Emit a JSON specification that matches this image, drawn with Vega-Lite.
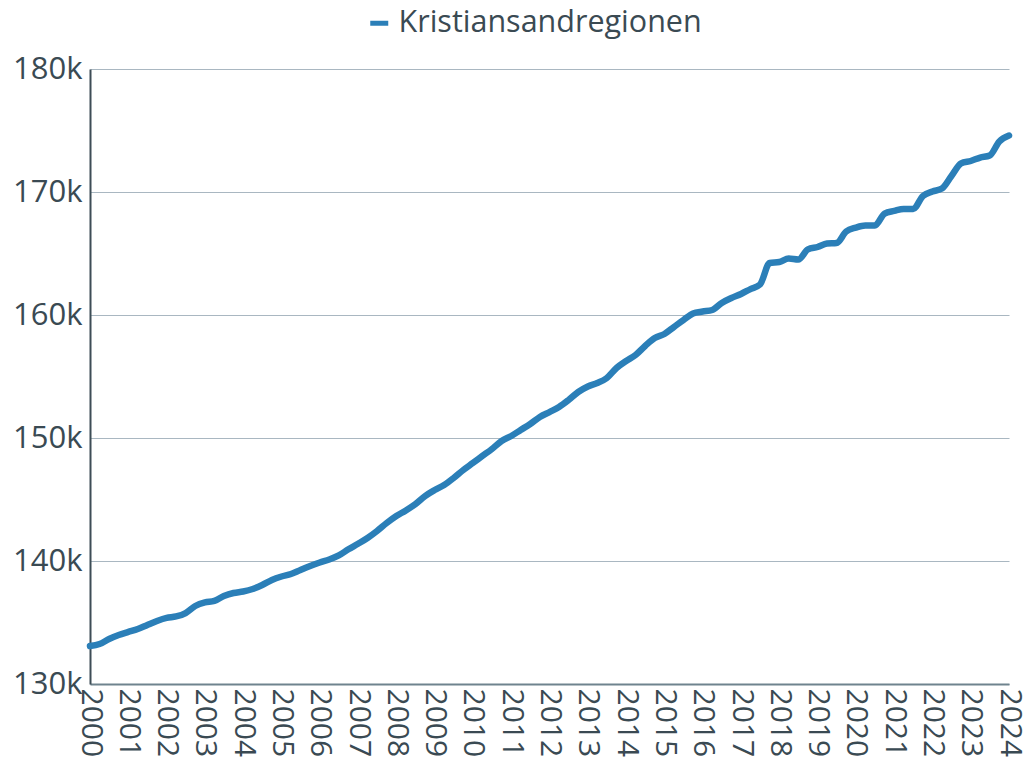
{
  "$schema": "https://vega.github.io/schema/vega-lite/v6.json",
  "autosize": "none",
  "width": 919,
  "height": 615,
  "padding": {"left": 90, "top": 69, "right": 16, "bottom": 78},
  "background": "white",
  "config": {
    "font": "Open Sans",
    "view": {"stroke": null}
  },
  "data": {
    "values": [
      {"date": "2000-01-01", "series": "Kristiansandregionen", "value": 133090},
      {"date": "2000-04-01", "series": "Kristiansandregionen", "value": 133250},
      {"date": "2000-07-01", "series": "Kristiansandregionen", "value": 133660},
      {"date": "2000-10-01", "series": "Kristiansandregionen", "value": 133980},
      {"date": "2001-01-01", "series": "Kristiansandregionen", "value": 134230},
      {"date": "2001-04-01", "series": "Kristiansandregionen", "value": 134470},
      {"date": "2001-07-01", "series": "Kristiansandregionen", "value": 134800},
      {"date": "2001-10-01", "series": "Kristiansandregionen", "value": 135120},
      {"date": "2002-01-01", "series": "Kristiansandregionen", "value": 135370},
      {"date": "2002-04-01", "series": "Kristiansandregionen", "value": 135490},
      {"date": "2002-07-01", "series": "Kristiansandregionen", "value": 135770},
      {"date": "2002-10-01", "series": "Kristiansandregionen", "value": 136340},
      {"date": "2003-01-01", "series": "Kristiansandregionen", "value": 136630},
      {"date": "2003-04-01", "series": "Kristiansandregionen", "value": 136750},
      {"date": "2003-07-01", "series": "Kristiansandregionen", "value": 137150},
      {"date": "2003-10-01", "series": "Kristiansandregionen", "value": 137400},
      {"date": "2004-01-01", "series": "Kristiansandregionen", "value": 137520},
      {"date": "2004-04-01", "series": "Kristiansandregionen", "value": 137720},
      {"date": "2004-07-01", "series": "Kristiansandregionen", "value": 138050},
      {"date": "2004-10-01", "series": "Kristiansandregionen", "value": 138460},
      {"date": "2005-01-01", "series": "Kristiansandregionen", "value": 138740},
      {"date": "2005-04-01", "series": "Kristiansandregionen", "value": 138940},
      {"date": "2005-07-01", "series": "Kristiansandregionen", "value": 139270},
      {"date": "2005-10-01", "series": "Kristiansandregionen", "value": 139590},
      {"date": "2006-01-01", "series": "Kristiansandregionen", "value": 139880},
      {"date": "2006-04-01", "series": "Kristiansandregionen", "value": 140120},
      {"date": "2006-07-01", "series": "Kristiansandregionen", "value": 140450},
      {"date": "2006-10-01", "series": "Kristiansandregionen", "value": 140950},
      {"date": "2007-01-01", "series": "Kristiansandregionen", "value": 141400},
      {"date": "2007-04-01", "series": "Kristiansandregionen", "value": 141870},
      {"date": "2007-07-01", "series": "Kristiansandregionen", "value": 142440},
      {"date": "2007-10-01", "series": "Kristiansandregionen", "value": 143090},
      {"date": "2008-01-01", "series": "Kristiansandregionen", "value": 143660},
      {"date": "2008-04-01", "series": "Kristiansandregionen", "value": 144110},
      {"date": "2008-07-01", "series": "Kristiansandregionen", "value": 144630},
      {"date": "2008-10-01", "series": "Kristiansandregionen", "value": 145280},
      {"date": "2009-01-01", "series": "Kristiansandregionen", "value": 145770},
      {"date": "2009-04-01", "series": "Kristiansandregionen", "value": 146180},
      {"date": "2009-07-01", "series": "Kristiansandregionen", "value": 146750},
      {"date": "2009-10-01", "series": "Kristiansandregionen", "value": 147400},
      {"date": "2010-01-01", "series": "Kristiansandregionen", "value": 147970},
      {"date": "2010-04-01", "series": "Kristiansandregionen", "value": 148540},
      {"date": "2010-07-01", "series": "Kristiansandregionen", "value": 149110},
      {"date": "2010-10-01", "series": "Kristiansandregionen", "value": 149760},
      {"date": "2011-01-01", "series": "Kristiansandregionen", "value": 150160},
      {"date": "2011-04-01", "series": "Kristiansandregionen", "value": 150650},
      {"date": "2011-07-01", "series": "Kristiansandregionen", "value": 151140},
      {"date": "2011-10-01", "series": "Kristiansandregionen", "value": 151710},
      {"date": "2012-01-01", "series": "Kristiansandregionen", "value": 152110},
      {"date": "2012-04-01", "series": "Kristiansandregionen", "value": 152520},
      {"date": "2012-07-01", "series": "Kristiansandregionen", "value": 153090},
      {"date": "2012-10-01", "series": "Kristiansandregionen", "value": 153740},
      {"date": "2013-01-01", "series": "Kristiansandregionen", "value": 154190},
      {"date": "2013-04-01", "series": "Kristiansandregionen", "value": 154470},
      {"date": "2013-07-01", "series": "Kristiansandregionen", "value": 154880},
      {"date": "2013-10-01", "series": "Kristiansandregionen", "value": 155690},
      {"date": "2014-01-01", "series": "Kristiansandregionen", "value": 156260},
      {"date": "2014-04-01", "series": "Kristiansandregionen", "value": 156750},
      {"date": "2014-07-01", "series": "Kristiansandregionen", "value": 157480},
      {"date": "2014-10-01", "series": "Kristiansandregionen", "value": 158130},
      {"date": "2015-01-01", "series": "Kristiansandregionen", "value": 158460},
      {"date": "2015-04-01", "series": "Kristiansandregionen", "value": 159020},
      {"date": "2015-07-01", "series": "Kristiansandregionen", "value": 159590},
      {"date": "2015-10-01", "series": "Kristiansandregionen", "value": 160120},
      {"date": "2016-01-01", "series": "Kristiansandregionen", "value": 160280},
      {"date": "2016-04-01", "series": "Kristiansandregionen", "value": 160410},
      {"date": "2016-07-01", "series": "Kristiansandregionen", "value": 160980},
      {"date": "2016-10-01", "series": "Kristiansandregionen", "value": 161380},
      {"date": "2017-01-01", "series": "Kristiansandregionen", "value": 161710},
      {"date": "2017-04-01", "series": "Kristiansandregionen", "value": 162110},
      {"date": "2017-07-01", "series": "Kristiansandregionen", "value": 162480},
      {"date": "2017-10-01", "series": "Kristiansandregionen", "value": 164230},
      {"date": "2018-01-01", "series": "Kristiansandregionen", "value": 164310},
      {"date": "2018-04-01", "series": "Kristiansandregionen", "value": 164590},
      {"date": "2018-07-01", "series": "Kristiansandregionen", "value": 164510},
      {"date": "2018-10-01", "series": "Kristiansandregionen", "value": 165330},
      {"date": "2019-01-01", "series": "Kristiansandregionen", "value": 165530},
      {"date": "2019-04-01", "series": "Kristiansandregionen", "value": 165810},
      {"date": "2019-07-01", "series": "Kristiansandregionen", "value": 165850},
      {"date": "2019-10-01", "series": "Kristiansandregionen", "value": 166790},
      {"date": "2020-01-01", "series": "Kristiansandregionen", "value": 167110},
      {"date": "2020-04-01", "series": "Kristiansandregionen", "value": 167280},
      {"date": "2020-07-01", "series": "Kristiansandregionen", "value": 167280},
      {"date": "2020-10-01", "series": "Kristiansandregionen", "value": 168250},
      {"date": "2021-01-01", "series": "Kristiansandregionen", "value": 168460},
      {"date": "2021-04-01", "series": "Kristiansandregionen", "value": 168620},
      {"date": "2021-07-01", "series": "Kristiansandregionen", "value": 168620},
      {"date": "2021-10-01", "series": "Kristiansandregionen", "value": 169670},
      {"date": "2022-01-01", "series": "Kristiansandregionen", "value": 170040},
      {"date": "2022-04-01", "series": "Kristiansandregionen", "value": 170280},
      {"date": "2022-07-01", "series": "Kristiansandregionen", "value": 171300},
      {"date": "2022-10-01", "series": "Kristiansandregionen", "value": 172320},
      {"date": "2023-01-01", "series": "Kristiansandregionen", "value": 172520},
      {"date": "2023-04-01", "series": "Kristiansandregionen", "value": 172800},
      {"date": "2023-07-01", "series": "Kristiansandregionen", "value": 172970},
      {"date": "2023-10-01", "series": "Kristiansandregionen", "value": 174110},
      {"date": "2024-01-01", "series": "Kristiansandregionen", "value": 174590}
    ]
  },
  "mark": {"type": "line", "interpolate": "monotone", "strokeWidth": 6.5, "strokeCap": "round", "strokeJoin": "round"},
  "encoding": {
    "x": {
      "field": "date",
      "type": "temporal",
      "scale": {"domain": ["2000-01-01", "2024-01-01"], "nice": false},
      "axis": {
        "title": null,
        "format": "%Y",
        "tickCount": {"interval": "year", "step": 1},
        "labelAngle": 90,
        "labelAlign": "left",
        "labelBaseline": "middle",
        "labelFontSize": 30,
        "labelColor": "#3a4a53",
        "labelPadding": 4,
        "labelOverlap": false,
        "labelFlush": false,
        "ticks": false,
        "tickSize": 0,
        "grid": false,
        "domainColor": "#6f838e",
        "domainWidth": 2
      }
    },
    "y": {
      "field": "value",
      "type": "quantitative",
      "scale": {"domain": [130000, 180000], "nice": false, "zero": false},
      "axis": {
        "title": null,
        "values": [130000, 140000, 150000, 160000, 170000, 180000],
        "format": "~s",
        "labelFontSize": 31,
        "labelColor": "#3a4a53",
        "labelPadding": 8,
        "ticks": false,
        "tickSize": 0,
        "grid": true,
        "gridColor": "#a9b7c1",
        "gridWidth": 1,
        "domainColor": "#3d4d56",
        "domainWidth": 2
      }
    },
    "color": {
      "field": "series",
      "type": "nominal",
      "scale": {"range": ["#2b7fb8"]},
      "legend": {
        "title": null,
        "orient": "none",
        "legendX": 274,
        "legendY": -61,
        "symbolType": "stroke",
        "symbolStrokeWidth": 5,
        "symbolSize": 324,
        "labelFontSize": 30.5,
        "labelLimit": 1000,
        "labelColor": "#3a4a53",
        "labelOffset": 4
      }
    }
  }
}
